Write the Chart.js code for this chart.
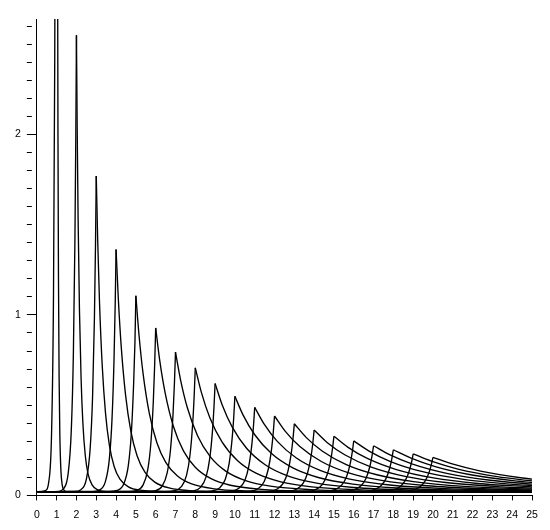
<!DOCTYPE html>
<html>
<head>
<meta charset="utf-8">
<script src="https://cdn.jsdelivr.net/npm/chart.js@4.4.1/dist/chart.umd.min.js"></script>
<style>
body { margin: 0; background: #fff; }
</style>
</head>
<body>
<canvas id="spikes" width="550" height="530"></canvas>
<script>
// peaks: where each curve tops out (x) and how high (y)
var peakX = [1, 2, 3, 4, 5, 6, 7, 8, 9, 10, 11, 12, 13, 14, 15, 16, 17, 18, 19, 20];
var peakY = [8.0, 2.55, 1.77, 1.363, 1.106, 0.928, 0.794, 0.707, 0.62, 0.549,
  0.488, 0.44, 0.397, 0.362, 0.328, 0.302, 0.275, 0.253, 0.23, 0.211];

// left (rising) side of every curve, peak not included
var riseSides = [
  [[0, 0.02], [0.44, 0.027], [0.6, 0.0735], [0.744, 0.347], [0.84, 1.097], [0.904, 2.422], [0.952, 4.401], [0.98, 6.236]],
  [[0, 0.02], [1.09, 0.0223], [1.35, 0.037], [1.584, 0.1237], [1.74, 0.3616], [1.844, 0.7815], [1.922, 1.409], [1.9675, 1.991]],
  [[0, 0.02], [1.9, 0.0216], [2.225, 0.0317], [2.504, 0.0918], [2.69, 0.2563], [2.814, 0.5468], [2.907, 0.9808], [2.961, 1.383]],
  [[0, 0.02], [2.8, 0.0212], [3.15, 0.029], [3.456, 0.0751], [3.66, 0.2013], [3.796, 0.4242], [3.898, 0.7573], [3.9575, 1.066]],
  [[0, 0.02], [3.65, 0.021], [4.05, 0.0273], [4.392, 0.0645], [4.62, 0.1666], [4.772, 0.3469], [4.886, 0.6162], [4.9525, 0.846]],
  [[0, 0.02], [4.6, 0.021], [5, 0.0261], [5.36, 0.0572], [5.6, 0.1426], [5.76, 0.2933], [5.88, 0.5185], [5.95, 0.7273]],
  [[0, 0.02], [5.5, 0.021], [5.95, 0.0252], [6.328, 0.0517], [6.58, 0.1245], [6.748, 0.253], [6.874, 0.4449], [6.9475, 0.623]],
  [[0, 0.02], [6.45, 0.021], [6.9, 0.0246], [7.296, 0.0482], [7.56, 0.1127], [7.736, 0.2268], [7.868, 0.3972], [7.945, 0.5552]],
  [[0, 0.02], [7.35, 0.0205], [7.85, 0.024], [8.264, 0.0446], [8.54, 0.101], [8.724, 0.2006], [8.862, 0.3494], [8.9425, 0.4874]],
  [[0, 0.02], [8.3, 0.0205], [8.8, 0.0235], [9.232, 0.0417], [9.52, 0.0914], [9.712, 0.1792], [9.856, 0.3104], [9.94, 0.4321]],
  [[0, 0.02], [9.2, 0.0205], [9.75, 0.0231], [10.2, 0.0392], [10.5, 0.0832], [10.7, 0.1609], [10.85, 0.2769], [10.9375, 0.3846]],
  [[0, 0.02], [10.1, 0.0205], [10.7, 0.0228], [11.168, 0.0372], [11.48, 0.0767], [11.688, 0.1464], [11.844, 0.2506], [11.935, 0.3472]],
  [[0, 0.02], [11.05, 0.0205], [11.65, 0.0225], [12.136, 0.0355], [12.46, 0.0709], [12.676, 0.1335], [12.838, 0.227], [12.9325, 0.3137]],
  [[0, 0.02], [12, 0.0205], [12.6, 0.0223], [13.104, 0.034], [13.44, 0.0662], [13.664, 0.1229], [13.832, 0.2078], [13.93, 0.2864]],
  [[0, 0.02], [12.9, 0.0205], [13.55, 0.0221], [14.072, 0.0326], [14.42, 0.0616], [14.652, 0.1127], [14.826, 0.1891], [14.9275, 0.2599]],
  [[0, 0.02], [13.8, 0.0205], [14.5, 0.0219], [15.04, 0.0316], [15.4, 0.0581], [15.64, 0.1049], [15.82, 0.1748], [15.925, 0.2397]],
  [[0, 0.02], [14.75, 0.0205], [15.45, 0.0217], [16.008, 0.0305], [16.38, 0.0544], [16.628, 0.0968], [16.814, 0.16], [16.9225, 0.2186]],
  [[0, 0.02], [15.7, 0.0205], [16.4, 0.0216], [16.976, 0.0296], [17.36, 0.0515], [17.616, 0.0901], [17.808, 0.1479], [17.92, 0.2015]],
  [[0, 0.02], [16.6, 0.0205], [17.35, 0.0214], [17.944, 0.0286], [18.34, 0.0484], [18.604, 0.0832], [18.802, 0.1353], [18.9175, 0.1836]],
  [[0, 0.02], [17.55, 0.0205], [18.3, 0.0213], [18.912, 0.0278], [19.32, 0.0458], [19.592, 0.0775], [19.796, 0.1249], [19.915, 0.1688]]
];

// right (falling) side of every curve, peak not included
var fallSides = [
  [[1.0104, 6.404], [1.0239, 4.808], [1.0433, 3.212], [1.0663, 2.015], [1.0918, 1.217], [1.124, 0.658], [1.1607, 0.339], [1.2146, 0.14], [1.278, 0.06], [1.3769, 0.028], [1.4834, 0.0216], [25, 0.02]],
  [[2.036, 2.044], [2.083, 1.538], [2.151, 1.032], [2.233, 0.6525], [2.325, 0.3995], [2.444, 0.2224], [2.582, 0.1212], [2.791, 0.058], [3.045, 0.0327], [3.46, 0.0225], [25, 0.02]],
  [[3.071, 1.42], [3.164, 1.07], [3.301, 0.72], [3.466, 0.4575], [3.656, 0.2825], [3.903, 0.16], [4.195, 0.09], [4.646, 0.0463], [5.21, 0.0288], [6.5, 0.021], [25, 0.02]],
  [[4.112, 1.094], [4.26, 0.8258], [4.479, 0.5572], [4.746, 0.3558], [5.056, 0.2215], [5.464, 0.1274], [5.952, 0.0737], [6.718, 0.0401], [7.694, 0.0267], [10, 0.021], [25, 0.02]],
  [[5.158, 0.8889], [5.368, 0.6716], [5.679, 0.4544], [6.062, 0.2915], [6.508, 0.1829], [7.101, 0.1069], [7.819, 0.0634], [8.96, 0.0363], [10.437, 0.0254], [14, 0.021], [25, 0.02]],
  [[6.206, 0.7464], [6.483, 0.5648], [6.893, 0.3832], [7.402, 0.247], [7.998, 0.1562], [8.797, 0.0926], [9.771, 0.0563], [11.337, 0.0336], [13.39, 0.0245], [18, 0.021], [25, 0.02]],
  [[7.258, 0.6392], [7.604, 0.4844], [8.121, 0.3296], [8.763, 0.2135], [9.519, 0.1361], [10.54, 0.0819], [11.793, 0.051], [13.824, 0.0316], [16.517, 0.0239], [25, 0.0205]],
  [[8.311, 0.5696], [8.73, 0.4322], [9.356, 0.2948], [10.139, 0.1918], [11.065, 0.1231], [12.319, 0.075], [13.869, 0.0475], [16.402, 0.0303], [19.789, 0.0234], [25, 0.0208]],
  [[9.365, 0.5], [9.86, 0.38], [10.6, 0.26], [11.528, 0.17], [12.63, 0.11], [14.129, 0.068], [15.991, 0.044], [19.052, 0.029], [23.181, 0.023], [25, 0.022]],
  [[10.422, 0.4432], [10.992, 0.3374], [11.849, 0.2316], [12.927, 0.1523], [14.209, 0.0993], [15.963, 0.0623], [18.151, 0.0412], [21.765, 0.0279], [25, 0.0238]],
  [[11.479, 0.3944], [12.128, 0.3008], [13.103, 0.2072], [14.334, 0.137], [15.803, 0.0902], [17.818, 0.0574], [20.341, 0.0387], [25, 0.0264]],
  [[12.536, 0.356], [13.265, 0.272], [14.363, 0.188], [15.748, 0.125], [17.407, 0.083], [19.691, 0.0536], [22.559, 0.0368], [25, 0.03]],
  [[13.595, 0.3216], [14.403, 0.2462], [15.623, 0.1708], [17.168, 0.1143], [19.02, 0.0766], [21.579, 0.0502], [25, 0.0345]],
  [[14.654, 0.2936], [15.544, 0.2252], [16.888, 0.1568], [18.592, 0.1055], [20.643, 0.0713], [23.479, 0.0474], [25, 0.0401]],
  [[15.714, 0.2664], [16.685, 0.2048], [18.155, 0.1432], [20.024, 0.097], [22.271, 0.0662], [25, 0.0465]],
  [[16.774, 0.2456], [17.827, 0.1892], [19.424, 0.1328], [21.456, 0.0905], [23.906, 0.0623], [25, 0.0542]],
  [[17.835, 0.224], [18.969, 0.173], [20.696, 0.122], [22.892, 0.0838], [25, 0.0623]],
  [[18.895, 0.2064], [20.113, 0.1598], [21.967, 0.1132], [24.331, 0.0783], [25, 0.0714]],
  [[19.956, 0.188], [21.259, 0.146], [23.241, 0.104], [25, 0.0803]],
  [[21.016, 0.1728], [22.404, 0.1346], [24.516, 0.0964], [25, 0.09]]
];

// axes
var xMin = 0, xMax = 25, xStep = 1;
var yMin = 0, yMax = 2.64, yMinorStep = 0.1;
var yLabelled = [0, 1, 2];

Chart.defaults.font.family = "'Liberation Sans', Arial, Helvetica, sans-serif";
Chart.defaults.font.size = 10.5;
Chart.defaults.color = '#000';

function toPoints(list) {
  return list.map(function (p) { return { x: p[0], y: p[1] }; });
}

var datasets = [];
for (var i = 0; i < peakX.length; i++) {
  var peakPt = [peakX[i], peakY[i]];
  // two halves so the peak stays a sharp cusp
  datasets.push({ data: toPoints(riseSides[i].concat([peakPt])) });
  datasets.push({ data: toPoints([peakPt].concat(fallSides[i])) });
}
datasets.forEach(function (d) {
  d.borderColor = '#000';
  d.borderWidth = 1.35;
  d.pointRadius = 0;
  d.fill = false;
  d.cubicInterpolationMode = 'monotone';
});

function isLabelled(v) {
  return yLabelled.some(function (l) { return Math.abs(l - v) < 1e-6; });
}

new Chart(document.getElementById("spikes"), {
  type: 'line',
  data: { datasets: datasets },
  options: {
    responsive: false,
    animation: false,
    events: [],
    layout: { padding: { left: 9, right: 18, top: 19, bottom: 1 } },
    plugins: { legend: { display: false }, tooltip: { enabled: false } },
    scales: {
      x: {
        type: 'linear',
        min: xMin,
        max: xMax,
        border: { display: true, color: '#000', width: 1 },
        grid: { drawOnChartArea: false, drawTicks: true, tickLength: 5, tickColor: '#000', tickWidth: 1 },
        ticks: { stepSize: xStep, padding: 8, maxRotation: 0, autoSkip: false }
      },
      y: {
        type: 'linear',
        min: yMin,
        max: yMax,
        border: { display: true, color: '#000', width: 1 },
        grid: {
          drawOnChartArea: false,
          drawTicks: true,
          tickLength: 10,
          tickColor: '#000',
          tickWidth: 1,
          // minor ticks only show the half next to the axis
          tickBorderDash: function (ctx) {
            return (ctx.tick && isLabelled(ctx.tick.value)) ? [] : [5, 40];
          }
        },
        ticks: {
          stepSize: yMinorStep,
          includeBounds: false,
          padding: 6,
          autoSkip: false,
          callback: function (v) {
            return isLabelled(v) ? String(Math.round(v)) : '';
          }
        }
      }
    }
  }
});
</script>
</body>
</html>
